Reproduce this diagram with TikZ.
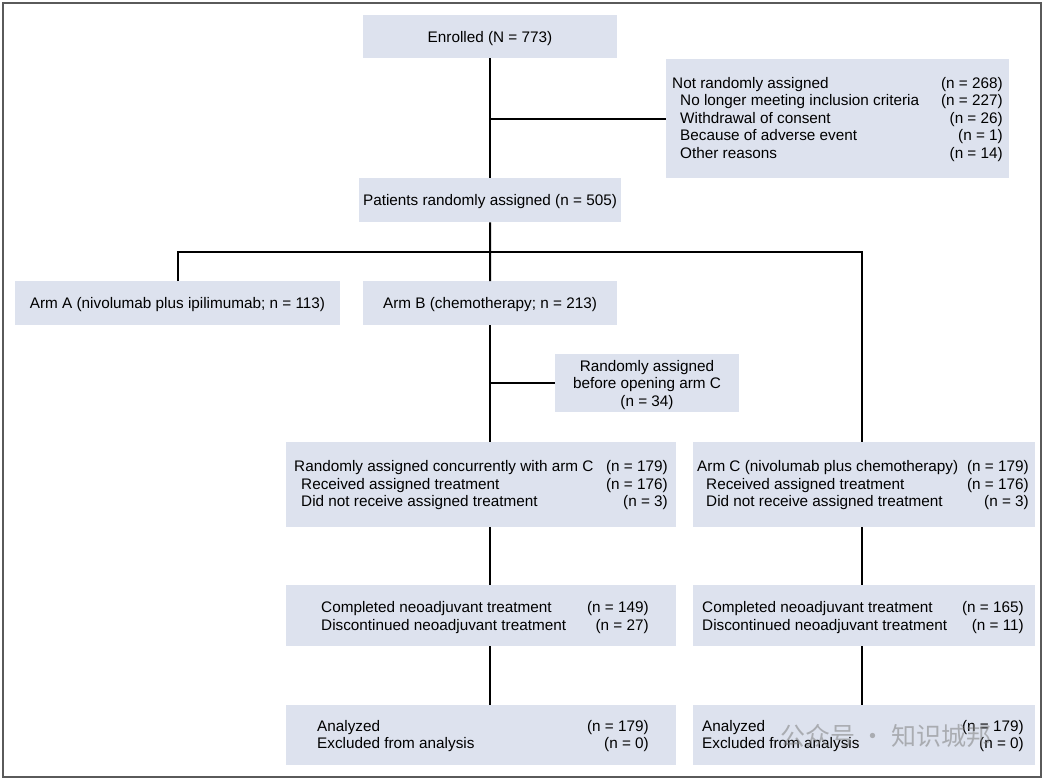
\documentclass[tikz,border=0pt]{standalone}
\usepackage{fontspec}
\setmainfont{Liberation Sans}
\newfontfamily\cjkfont{Noto Sans CJK SC}
\definecolor{boxfill}{RGB}{221,226,238}
\definecolor{framecol}{RGB}{90,90,90}
\begin{document}
\begin{tikzpicture}[x=1pt,y=-1pt,
  box/.style n args={2}{fill=boxfill, draw=none, inner sep=0pt, anchor=north west, minimum width=#1pt, minimum height=#2pt},
  conn/.style={draw=black, line width=2pt},
  txt/.style={inner sep=0pt, font=\fontsize{15.3}{17.5}\selectfont},
  tl/.style={txt, anchor=base west},
  tr/.style={txt, anchor=base east},
  tc/.style={txt, anchor=base}
]
\useasboundingbox (0,0) rectangle (1044,780);
\fill[white] (0,0) rectangle (1044,780);
\draw[framecol, line width=1.5pt] (3,3) rectangle (1041,777);

% boxes
\node[box={254}{43}] (enr) at (363,15) {};
\node[box={343}{119}] (nra) at (666,59) {};
\node[box={262}{44}] (pat) at (359,178) {};
\node[box={325}{44}] (armA) at (15,281) {};
\node[box={254}{44}] (armB) at (363,281) {};
\node[box={184}{58}] (rb) at (555,354) {};
\node[box={390}{85}] (conc) at (286,442) {};
\node[box={342}{85}] (armC) at (693,442) {};
\node[box={390}{61}] (compL) at (286,585) {};
\node[box={342}{61}] (compR) at (693,585) {};
\node[box={390}{60}] (anaL) at (286,705) {};
\node[box={342}{60}] (anaR) at (693,705) {};

% connectors
\coordinate (split) at (490,252);
\coordinate (rc) at (862,252);
\draw[conn] (enr.south) -- (pat.north);
\draw[conn] (enr.south |- nra.west) -- (nra.west);
\draw[conn] (pat.south) -- (split);
\draw[conn] (armA.north) |- (rc) -- (rc |- armC.north);
\draw[conn] (split) -- (armB.north);
\draw[conn] (armB.south) -- (armB.south |- conc.north);
\draw[conn] (armB.south |- rb.west) -- (rb.west);
\draw[conn] (armB.south |- conc.south) -- (armB.south |- compL.north);
\draw[conn] (armB.south |- compL.south) -- (armB.south |- anaL.north);
\draw[conn] (rc |- armC.south) -- (rc |- compR.north);
\draw[conn] (rc |- compR.south) -- (rc |- anaR.north);

% texts
\node[tc] (t1) at (490,42) {Enrolled (N = 773)};

\node[tl] (t2a) at (672,88) {Not randomly assigned};
\node[tr] (t2b) at (1003,88) {(n = 268)};
\node[tl] (t3a) at (680,105.5) {No longer meeting inclusion criteria};
\node[tr] (t3b) at (1003,105.5) {(n = 227)};
\node[tl] (t4a) at (680,123) {Withdrawal of consent};
\node[tr] (t4b) at (1003,123) {(n = 26)};
\node[tl] (t5a) at (680,140.5) {Because of adverse event};
\node[tr] (t5b) at (1003,140.5) {(n = 1)};
\node[tl] (t6a) at (680,158) {Other reasons};
\node[tr] (t6b) at (1003,158) {(n = 14)};

\node[tc] (t7) at (490,205) {Patients randomly assigned (n = 505)};
\node[tc] (t8) at (177.5,308) {Arm A (nivolumab plus ipilimumab; n = 113)};
\node[tc] (t9) at (490,308) {Arm B (chemotherapy; n = 213)};

\node[tc] (t10a) at (647,371) {Randomly assigned};
\node[tc] (t10b) at (647,388.5) {before opening arm C};
\node[tc] (t10c) at (647,406) {(n = 34)};

\node[tl] (t11a) at (294,471) {Randomly assigned concurrently with arm C};
\node[tr] (t11b) at (668,471) {(n = 179)};
\node[tl] (t12a) at (301,489) {Received assigned treatment};
\node[tr] (t12b) at (668,489) {(n = 176)};
\node[tl] (t13a) at (301,506) {Did not receive assigned treatment};
\node[tr] (t13b) at (668,506) {(n = 3)};

\node[tl] (t14a) at (697,471) {Arm C (nivolumab plus chemotherapy)};
\node[tr] (t14b) at (1029,471) {(n = 179)};
\node[tl] (t15a) at (706,489) {Received assigned treatment};
\node[tr] (t15b) at (1029,489) {(n = 176)};
\node[tl] (t16a) at (706,506) {Did not receive assigned treatment};
\node[tr] (t16b) at (1029,506) {(n = 3)};

\node[tl] (t17a) at (321,612) {Completed neoadjuvant treatment};
\node[tr] (t17b) at (649,612) {(n = 149)};
\node[tl] (t18a) at (321,630) {Discontinued neoadjuvant treatment};
\node[tr] (t18b) at (649,630) {(n = 27)};

\node[tl] (t19a) at (702,612) {Completed neoadjuvant treatment};
\node[tr] (t19b) at (1024,612) {(n = 165)};
\node[tl] (t20a) at (702,630) {Discontinued neoadjuvant treatment};
\node[tr] (t20b) at (1024,630) {(n = 11)};

\node[tl] (t21a) at (317,731) {Analyzed};
\node[tr] (t21b) at (649,731) {(n = 179)};
\node[tl] (t22a) at (317,748) {Excluded from analysis};
\node[tr] (t22b) at (649,748) {(n = 0)};

\node[tl] (t23a) at (702,731) {Analyzed};
\node[tr] (t23b) at (1024,731) {(n = 179)};
\node[tl] (t24a) at (702,748) {Excluded from analysis};
\node[tr] (t24b) at (1024,748) {(n = 0)};

% watermark
\node[inner sep=0pt, anchor=base west, text=gray, opacity=0.55, font=\cjkfont\fontsize{25}{25}\selectfont] (wm) at (780,745) {公众号 · 知识城邦};
\end{tikzpicture}
\end{document}
